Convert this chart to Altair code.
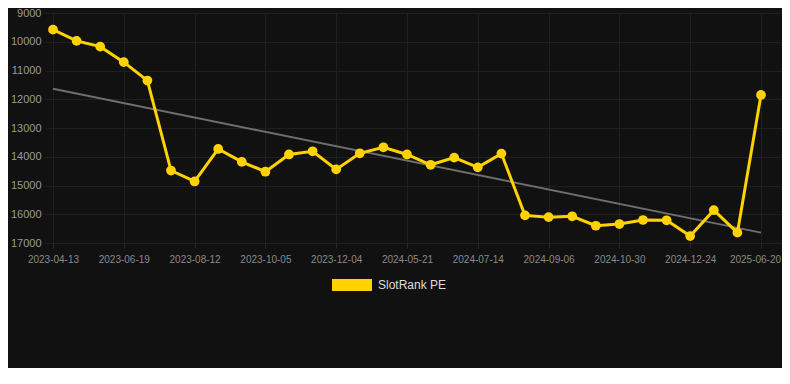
import altair as alt
import pandas as pd

# Ranking values (lower rank number = better; axis reversed)
ranks = [9580, 9970, 10170, 10710, 11350, 14480, 14860, 13730, 14180, 14520,
         13920, 13810, 14440, 13880, 13670, 13920, 14280, 14030, 14370, 13890,
         16040, 16100, 16070, 16400, 16340, 16200, 16210, 16760, 15860, 16640,
         11850]
# Tick labels shown on every third point
tick_labels = ["2023-04-13", "2023-06-19", "2023-08-12", "2023-10-05", "2023-12-04",
               "2024-05-21", "2024-07-14", "2024-09-06", "2024-10-30", "2024-12-24",
               "2025-06-20"]
y_ticks = [9000, 10000, 11000, 12000, 13000, 14000, 15000, 16000, 17000]

series_name = "SlotRank PE"
yellow = "#FFD200"

df = pd.DataFrame({"i": list(range(len(ranks))), "rank": ranks, "series": series_name})

labels_js = "[" + ",".join(f"'{t}'" for t in tick_labels) + "]"
last_i = len(ranks) - 1

x_enc = alt.X("i:Q",
              scale=alt.Scale(domain=[-0.339, 30.89], nice=False, zero=False),
              axis=alt.Axis(values=list(range(0, len(ranks), 3)),
                            labelExpr=f"{labels_js}[round(datum.value/3)]",
                            title=None, grid=True, gridColor="#1f1f1f",
                            domain=False, ticks=True, tickColor="#2a2a2a", tickSize=5,
                            labelColor="#8a8a8a", labelFontSize=10, labelPadding=6,
                            labelFont="Liberation Sans", labelFlush=False,
                            labelOverlap=False,
                            labelOffset={"condition": {"test": f"datum.value == {last_i}",
                                                       "value": -6}, "value": 0}))
y_enc = alt.Y("rank:Q",
              scale=alt.Scale(domain=[9000, 17000], reverse=True, nice=False, zero=False),
              axis=alt.Axis(values=y_ticks, format="d", title=None, grid=True,
                            gridColor="#1f1f1f", labelOverlap=False,
                            domain=False, ticks=False, labelColor="#9a9a9a",
                            labelFontSize=11, labelPadding=4, labelFont="Liberation Sans"))

base = alt.Chart(df)

trend = base.transform_regression("i", "rank").mark_line(
    color="#6e6e6e", strokeWidth=2
).encode(x=x_enc, y=y_enc)

line = base.mark_line(strokeWidth=3).encode(
    x=x_enc, y=y_enc,
    color=alt.Color("series:N",
                    scale=alt.Scale(domain=[series_name], range=[yellow]),
                    legend=alt.Legend(title=None, orient="none", legendX=287, legendY=252,
                                      symbolType="M-1,-0.3L1,-0.3L1,0.3L-1,0.3Z",
                                      symbolSize=1600, symbolStrokeWidth=0,
                                      symbolFillColor=yellow,
                                      labelColor="#dddddd", labelFontSize=12,
                                      labelFont="Liberation Sans", labelOffset=6))
)

points = base.mark_circle(size=95, opacity=1).encode(
    x=x_enc, y=y_enc, color=alt.Color("series:N", legend=None)
)

chart = alt.layer(trend, line, points).properties(
    width=737, height=230,
    autosize=alt.AutoSizeParams(type="none"),
    padding={"left": 37, "top": 5, "right": 0, "bottom": 125},
    background="#111111",
).configure_view(stroke=None)

chart.save("out.html", embed_options={"renderer": "svg", "actions": False})
